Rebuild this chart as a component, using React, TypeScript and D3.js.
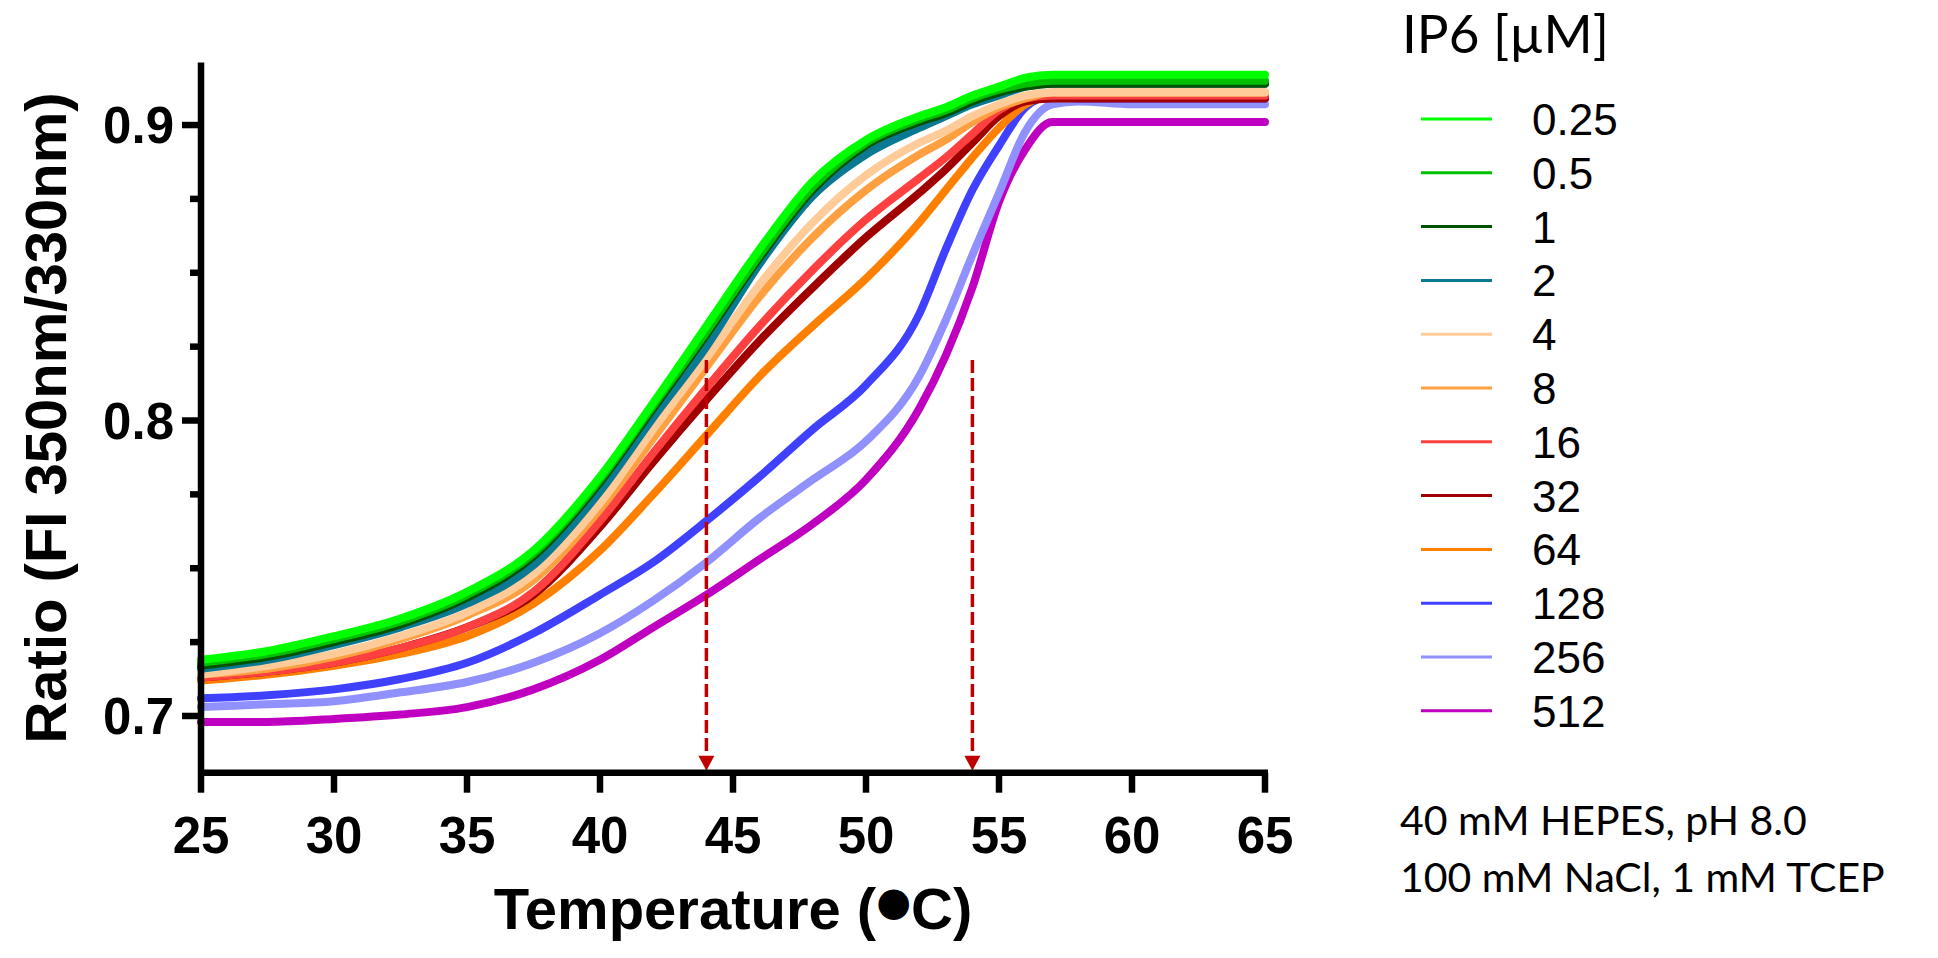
import React from "react";
import * as d3 from "d3";

const temps = [25, 27.5, 30, 32.5, 35, 37.5, 40, 42, 44, 46, 48, 50, 52, 53, 54, 55, 56, 57, 58, 60, 62.5, 65];

const s0_25 = [0.719, 0.722, 0.727, 0.733, 0.742, 0.756, 0.781, 0.806, 0.832, 0.858, 0.881, 0.895, 0.903, 0.906, 0.910, 0.913, 0.916, 0.917, 0.917, 0.917, 0.917, 0.917];
const s0_5 = [0.718, 0.721, 0.726, 0.732, 0.741, 0.755, 0.780, 0.805, 0.830, 0.856, 0.879, 0.894, 0.902, 0.905, 0.909, 0.912, 0.914, 0.915, 0.915, 0.915, 0.915, 0.915];
const s1 = [0.717, 0.720, 0.725, 0.731, 0.740, 0.754, 0.779, 0.804, 0.829, 0.855, 0.878, 0.893, 0.901, 0.904, 0.908, 0.911, 0.913, 0.914, 0.914, 0.914, 0.914, 0.914];
const s2 = [0.716, 0.719, 0.724, 0.730, 0.738, 0.751, 0.776, 0.801, 0.825, 0.853, 0.876, 0.890, 0.899, 0.903, 0.907, 0.910, 0.913, 0.914, 0.914, 0.914, 0.914, 0.914];
const s4 = [0.714, 0.717, 0.721, 0.727, 0.735, 0.748, 0.772, 0.797, 0.821, 0.846, 0.867, 0.883, 0.894, 0.898, 0.903, 0.907, 0.910, 0.911, 0.911, 0.911, 0.911, 0.911];
const s8 = [0.714, 0.716, 0.720, 0.726, 0.734, 0.746, 0.770, 0.794, 0.818, 0.842, 0.862, 0.878, 0.890, 0.895, 0.901, 0.906, 0.909, 0.911, 0.911, 0.911, 0.911, 0.911];
const s16 = [0.713, 0.715, 0.718, 0.723, 0.730, 0.742, 0.766, 0.789, 0.811, 0.832, 0.851, 0.868, 0.882, 0.889, 0.897, 0.905, 0.909, 0.910, 0.910, 0.910, 0.910, 0.910];
const s32 = [0.713, 0.715, 0.718, 0.723, 0.730, 0.741, 0.764, 0.786, 0.807, 0.827, 0.845, 0.862, 0.877, 0.885, 0.894, 0.903, 0.908, 0.909, 0.909, 0.909, 0.909, 0.909];
const s64 = [0.712, 0.714, 0.717, 0.721, 0.727, 0.738, 0.756, 0.775, 0.795, 0.815, 0.832, 0.848, 0.867, 0.878, 0.889, 0.899, 0.907, 0.910, 0.910, 0.910, 0.910, 0.910];
const s128 = [0.706, 0.707, 0.709, 0.7125, 0.718, 0.728, 0.741, 0.752, 0.766, 0.781, 0.797, 0.812, 0.836, 0.858, 0.878, 0.893, 0.906, 0.910, 0.909, 0.909, 0.909, 0.909];
const s256 = [0.703, 0.704, 0.705, 0.708, 0.7115, 0.718, 0.728, 0.739, 0.752, 0.767, 0.780, 0.793, 0.815, 0.834, 0.856, 0.877, 0.898, 0.907, 0.908, 0.907, 0.907, 0.907];
const s512 = [0.698, 0.698, 0.699, 0.7005, 0.703, 0.709, 0.719, 0.730, 0.741, 0.753, 0.765, 0.780, 0.804, 0.822, 0.845, 0.874, 0.892, 0.901, 0.901, 0.901, 0.901, 0.901];

const seriesLabels = ["0.25", "0.5", "1", "2", "4", "8", "16", "32", "64", "128", "256", "512"];
const seriesValues = [s0_25, s0_5, s1, s2, s4, s8, s16, s32, s64, s128, s256, s512];
const seriesColors = ["#00ff00", "#00c000", "#005200", "#0a7a94", "#ffcc99", "#ffa040", "#ff4040", "#a00000", "#ff8000", "#4040ff", "#9090ff", "#c000c0"];

const xTicks = [25, 30, 35, 40, 45, 50, 55, 60, 65];
const yMajorTicks = [0.7, 0.8, 0.9];
const yMinorTicks = [0.725, 0.75, 0.775, 0.825, 0.85, 0.875];
const arrowTemps = [44, 54];
const arrowTop = 0.8205;

const legendTitle = "IP6 [µM]";
const bufferLines = ["40 mM HEPES, pH 8.0", "100 mM NaCl, 1 mM TCEP"];

export default function App() {
  const x = d3.scaleLinear().domain([25, 65]).range([201, 1265]);
  const y = d3.scaleLinear().domain([0.6808, 0.9212]).range([772.7, 62.4]);
  const line = d3
    .line<[number, number]>()
    .x((d) => x(d[0]))
    .y((d) => y(d[1]))
    .curve(d3.curveMonotoneX);

  const arial = "'Liberation Sans', Arial, sans-serif";
  const calibri = "Lato, 'Open Sans', sans-serif";
  const axisY = y(0.6808);
  const red = "#c00000";

  const order = d3.range(seriesValues.length).reverse();

  return (
    <svg
      width={1938}
      height={958}
      style={{ position: "absolute", left: 0, top: 0, display: "block", background: "#fff" }}
    >
      {/* curves */}
      <g fill="none" strokeLinejoin="round" strokeLinecap="round">
        {order.map((i) => (
          <path
            key={i}
            d={line(temps.map((t, k) => [t, seriesValues[i][k]] as [number, number])) || ""}
            stroke={seriesColors[i]}
            strokeWidth={8}
          />
        ))}
      </g>

      {/* arrows */}
      {arrowTemps.map((t) => (
        <g key={t}>
          <line
            x1={x(t)}
            x2={x(t)}
            y1={y(arrowTop)}
            y2={axisY - 14}
            stroke={red}
            strokeWidth={3.5}
            strokeDasharray="13 5"
          />
          <path
            d={`M${x(t) - 8},${axisY - 17} L${x(t) + 8},${axisY - 17} L${x(t)},${axisY - 2} Z`}
            fill={red}
          />
        </g>
      ))}

      {/* axes */}
      <g stroke="#000" strokeWidth={6.5} fill="none">
        <line x1={x(25)} x2={x(25)} y1={y(0.9212)} y2={axisY} />
        <line x1={x(25) - 3} x2={x(65) + 3} y1={axisY} y2={axisY} />
        {xTicks.map((t) => (
          <line key={t} x1={x(t)} x2={x(t)} y1={axisY} y2={axisY + 20} />
        ))}
        {yMajorTicks.map((v) => (
          <line key={v} x1={x(25) - 19} x2={x(25)} y1={y(v)} y2={y(v)} />
        ))}
        {yMinorTicks.map((v) => (
          <line key={v} x1={x(25) - 11} x2={x(25)} y1={y(v)} y2={y(v)} />
        ))}
      </g>

      {/* tick labels */}
      <g fontFamily={arial} fontWeight="bold" fontSize={51} fill="#000">
        {xTicks.map((t) => (
          <text key={t} x={x(t)} y={853} textAnchor="middle">
            {t}
          </text>
        ))}
        {yMajorTicks.map((v) => (
          <text key={v} x={174} y={y(v) + 18} textAnchor="end">
            {d3.format(".1f")(v)}
          </text>
        ))}
      </g>

      {/* axis titles */}
      <text
        x={(x(25) + x(65)) / 2}
        y={929}
        textAnchor="middle"
        fontFamily={arial}
        fontWeight="bold"
        fontSize={58}
      >
        Temperature (
        <tspan fontFamily="'DejaVu Sans', sans-serif" fontSize={40} dy={-14}>●</tspan>
        <tspan dy={14}>C)</tspan>
      </text>
      <text
        transform={`translate(66,418) rotate(-90)`}
        textAnchor="middle"
        fontFamily={arial}
        fontWeight="bold"
        fontSize={58}
      >
        Ratio (FI 350nm/330nm)
      </text>

      {/* legend */}
      <text x={1402} y={53} fontFamily={calibri} fontSize={53} fill="#000">
        {legendTitle}
      </text>
      {seriesLabels.map((lab, i) => {
        const ly = 119 + i * 53.8;
        return (
          <g key={lab}>
            <line x1={1421} x2={1492} y1={ly} y2={ly} stroke={seriesColors[i]} strokeWidth={3} />
            <text x={1532} y={ly + 16} fontFamily={arial} fontSize={44} fill="#000">
              {lab}
            </text>
          </g>
        );
      })}

      {bufferLines.map((s, i) => (
        <text key={s} x={1400} y={835 + i * 57} fontFamily={calibri} fontSize={41} fill="#000">
          {s}
        </text>
      ))}
    </svg>
  );
}
